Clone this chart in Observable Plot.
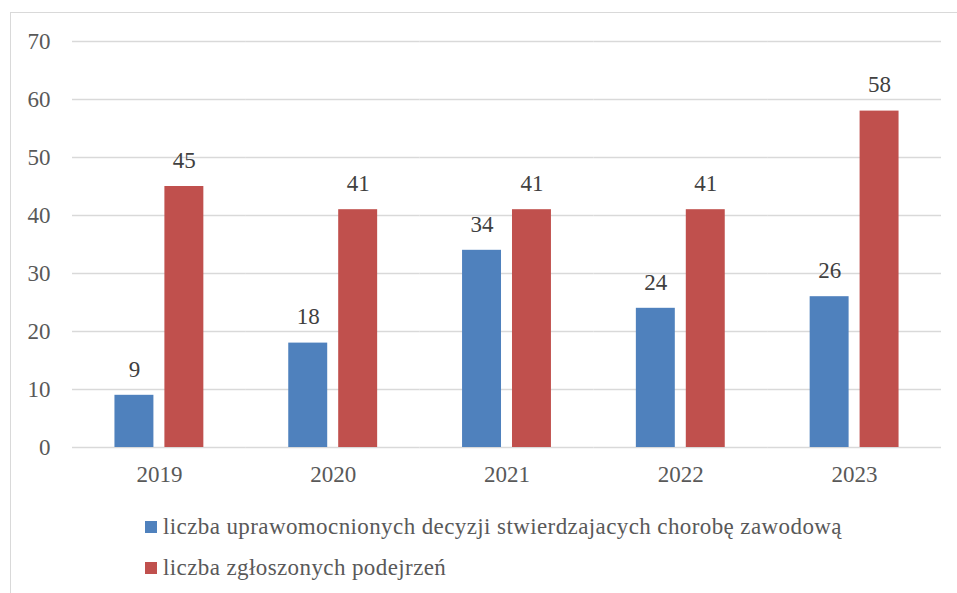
<!DOCTYPE html>
<html>
<head>
<meta charset="utf-8">
<script src="https://cdn.jsdelivr.net/npm/d3@7"></script>
<script src="https://cdn.jsdelivr.net/npm/@observablehq/plot@0.6"></script>
<style>
  html, body { margin: 0; padding: 0; background: #fff; overflow: hidden; }
  body { width: 957px; height: 593px; position: relative; font-family: 'Liberation Serif', 'DejaVu Serif', 'Noto Serif', 'Tinos', 'Nimbus Roman', 'FreeSerif', 'Times New Roman', Times, serif; }
  #border { position: absolute; left: 10px; top: 12px; width: 1200px; height: 1200px; border: 1px solid #d9d9d9; box-sizing: border-box; }
  #chart { position: absolute; left: 0; top: 0; }
  #legend { position: absolute; left: 145px; top: 506px; color: #595959; font-size: 23px; letter-spacing: 0.4px; }
  .row { display: flex; align-items: center; height: 41px; }
  .sw { width: 12px; height: 12px; margin-right: 6px; flex: none; }
  #chart svg text { font-family: 'Liberation Serif', 'DejaVu Serif', 'Noto Serif', 'Tinos', 'Nimbus Roman', 'FreeSerif', 'Times New Roman', Times, serif; }
</style>
</head>
<body>
<div id="border"></div>
<div id="chart"></div>
<div id="legend"></div>
<script>
const years = ["2019", "2020", "2021", "2022", "2023"];
const seriesNames = [
  "liczba uprawomocnionych decyzji stwierdzajacych chorobę zawodową",
  "liczba zgłoszonych podejrzeń"
];
const decisions = [9, 18, 34, 24, 26];
const reports = [45, 41, 41, 41, 58];
const seriesColors = ["#4f81bd", "#c0504d"];
const yTicks = [0, 10, 20, 30, 40, 50, 60, 70];

const data = [];
years.forEach((yr, i) => {
  data.push({year: yr, series: seriesNames[0], value: decisions[i]});
  data.push({year: yr, series: seriesNames[1], value: reports[i]});
});

const plot = Plot.plot({
  width: 957,
  height: 495,
  marginTop: 41,
  marginBottom: 48,
  marginLeft: 72,
  marginRight: 16,
  style: { fontSize: "23px", color: "#595959", background: "transparent" },
  fx: { domain: years, padding: 0, label: null, round: false },
  x: { domain: seriesNames, paddingInner: 0.22, paddingOuter: 0.85, axis: null, round: false },
  y: { domain: [0, 70], label: null },
  color: { domain: seriesNames, range: seriesColors },
  marks: [
    Plot.gridY(yTicks, { stroke: "#d9d9d9", strokeOpacity: 1, strokeWidth: 1.5 }),
    Plot.axisY(yTicks, { tickSize: 0, tickPadding: 22, label: null, fill: "#595959", fontSize: 23 }),
    Plot.axisFx({ anchor: "bottom", tickSize: 0, tickPadding: 18, label: null, fill: "#595959", fontSize: 23 }),
    Plot.barY(data, { fx: "year", x: "series", y: "value", fill: "series" }),
    Plot.text(data, { fx: "year", x: "series", y: "value", text: d => String(d.value), dy: -26, fill: "#404040", fontSize: 23 })
  ]
});
document.getElementById("chart").appendChild(plot);

const legend = document.getElementById("legend");
seriesNames.forEach((name, i) => {
  const row = document.createElement("div");
  row.className = "row";
  const sw = document.createElement("span");
  sw.className = "sw";
  sw.style.background = seriesColors[i];
  const t = document.createElement("span");
  t.textContent = name;
  row.appendChild(sw);
  row.appendChild(t);
  legend.appendChild(row);
});
</script>
</body>
</html>
